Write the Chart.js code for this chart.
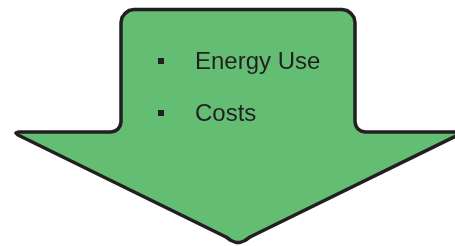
<!DOCTYPE html>
<html>
<head>
<meta charset="utf-8">
<script src="https://cdn.jsdelivr.net/npm/chart.js@4"></script>
<style>
  html, body { margin: 0; padding: 0; background: #fff; }
  .wrap { position: relative; width: 455px; height: 246px; overflow: hidden; }
  canvas { position: absolute; left: 0; top: 0; }
  .item { position: absolute; left: 195px; font: 24px "Liberation Sans", Arial, sans-serif; line-height: 24px; color: #231f20; white-space: nowrap; }
  .bullet { position: absolute; left: 158px; width: 6px; height: 6px; background: #231f20; }
</style>
</head>
<body>
<div class="wrap">
  <canvas id="arrowChart" width="455" height="246"></canvas>
  <div id="items"></div>
</div>
<script>
// arrow outline (pixels, y down), clockwise from top middle
const outlineX = [238, 342, 347, 351, 354, 355, 355, 356, 358, 361, 365, 457, 460, 458, 250, 245, 240, 236, 231, 226, 18, 16, 19, 111, 115, 118, 120, 121, 121, 122, 125, 129, 134, 238];
const outlineY = [9.5, 9.5, 10.5, 13.5, 17.5, 22.5, 122, 126, 129, 131, 132, 132, 133, 135, 237, 240.5, 242.5, 242.5, 240.5, 237, 135, 133, 132, 132, 131, 129, 126, 122, 22.5, 17.5, 13.5, 10.5, 9.5, 9.5];

const bulletLabels = ['Energy Use', 'Costs'];
const bulletBaselines = [69, 121];

const FILL = '#63be74';
const EDGE = '#231f20';

document.addEventListener('DOMContentLoaded', function(){
  const points = outlineX.map((x, i) => ({x: x, y: outlineY[i]}));

  new Chart(document.getElementById('arrowChart'), {
    type: 'scatter',
    data: {
      datasets: [{
        data: points,
        showLine: true,
        fill: 'shape',
        backgroundColor: FILL,
        borderColor: EDGE,
        borderWidth: 3.5,
        borderJoinStyle: 'round',
        borderCapStyle: 'round',
        pointRadius: 0,
        tension: 0
      }]
    },
    options: {
      indexAxis: 'y',
      responsive: false,
      animation: false,
      layout: {padding: 0},
      plugins: {legend: {display: false}, tooltip: {enabled: false}},
      scales: {
        x: {type: 'linear', display: false, min: 0, max: 455},
        y: {type: 'linear', display: false, min: 0, max: 246, reverse: true}
      }
    }
  });

  // bullet list on top of the arrow
  const box = document.getElementById('items');
  bulletLabels.forEach((lab, i) => {
    const b = document.createElement('div');
    b.className = 'bullet';
    b.style.top = (bulletBaselines[i] - 11) + 'px';
    box.appendChild(b);

    const t = document.createElement('div');
    t.className = 'item';
    t.style.top = (bulletBaselines[i] - 20) + 'px';
    t.textContent = lab;
    box.appendChild(t);
  });
});
</script>
</body>
</html>
